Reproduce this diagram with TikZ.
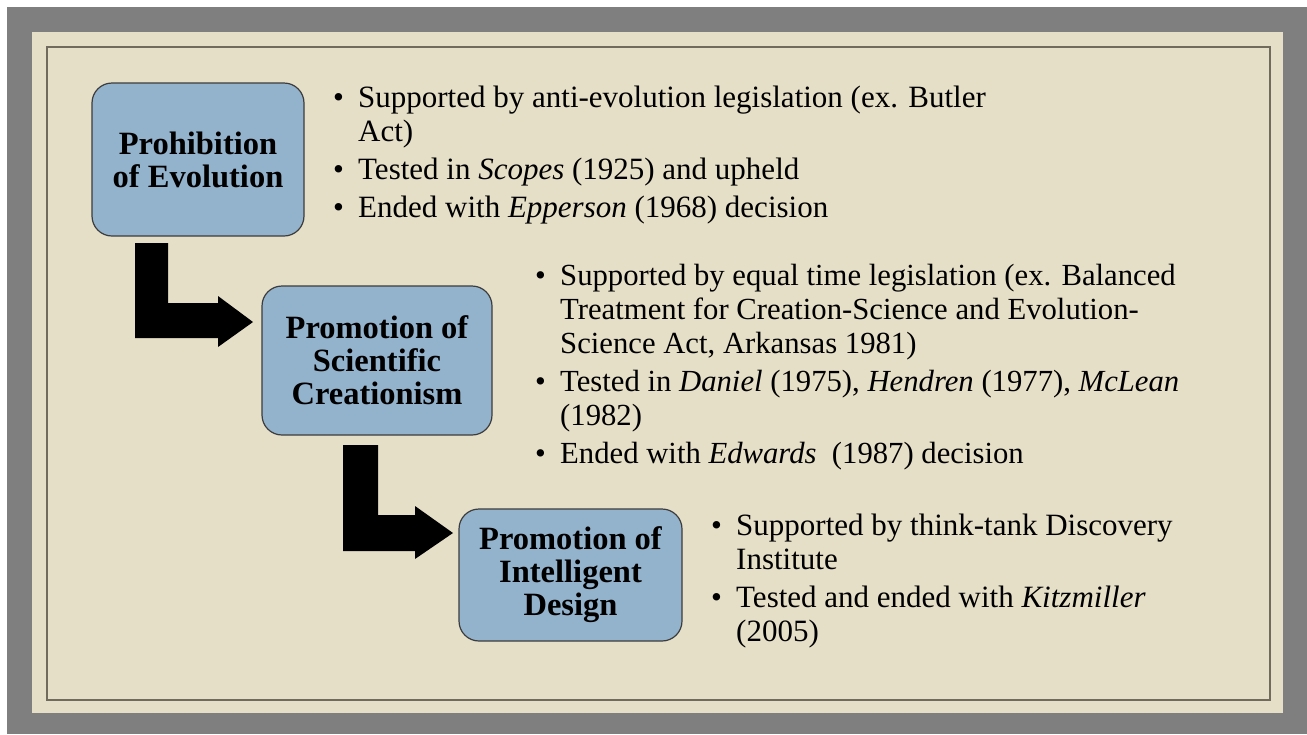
\documentclass[tikz,border=0pt]{standalone}
\usepackage{fontspec}
\setmainfont{Liberation Serif}
\usetikzlibrary{calc}
\definecolor{bggray}{RGB}{127,127,127}
\definecolor{panel}{RGB}{230,223,199}
\definecolor{framec}{RGB}{112,107,92}
\definecolor{boxfill}{RGB}{147,178,204}
\definecolor{boxline}{RGB}{60,60,60}
\newcommand{\mybul}{\makebox[25pt][l]{\textbullet}}
\newcommand{\myind}{\hspace*{25pt}}
\begin{document}
\begin{tikzpicture}[x=1pt,y=-1pt,
  stagebox/.style={draw=boxline, fill=boxfill, rounded corners=20pt, line width=1.2pt,
    align=center, inner sep=0pt, font=\fontsize{32.5}{33}\selectfont\bfseries},
  bullets/.style={anchor=base west, inner sep=0pt, font=\fontsize{31}{34}\selectfont},
  bigarrow/.style={fill=black}]
\useasboundingbox (0,0) rectangle (1307,734);
\fill[white] (0,0) rectangle (1307,734);
\fill[bggray] (7,7) rectangle (1307,734);
\fill[panel] (32,32) rectangle (1283,713);
\draw[framec, line width=1.6pt] (47,47) rectangle (1270,700);

\node[stagebox, minimum width=212pt, minimum height=153pt] (b1) at (198,159.5) {Prohibition\\of Evolution};
\node[stagebox, minimum width=230pt, minimum height=149pt] (b2) at (377,360.5) {Promotion of\\Scientific\\Creationism};
\node[stagebox, minimum width=223pt, minimum height=132pt] (b3) at (570.5,575) {Promotion of\\Intelligent\\Design};

\node[bullets] (t1) at (333,107) {\parbox[t]{760pt}{\raggedright
\mybul Supported by anti-evolution legislation (ex. Butler\\
\myind Act)\\[4pt]
\mybul Tested in \textit{Scopes} (1925) and upheld\\[4pt]
\mybul Ended with \textit{Epperson} (1968) decision}};

\node[bullets, font=\fontsize{30.7}{34}\selectfont] (t2) at (535,285) {\parbox[t]{720pt}{\raggedright
\mybul Supported by equal time legislation (ex. Balanced\\
\myind Treatment for Creation-Science and Evolution-\\
\myind Science Act, Arkansas 1981)\\[4pt]
\mybul Tested in \textit{Daniel} (1975), \textit{Hendren} (1977), \textit{McLean}\\
\myind (1982)\\[4pt]
\mybul Ended with \textit{Edwards}\ \ (1987) decision}};

\node[bullets] (t3) at (711,535) {\parbox[t]{560pt}{\raggedright
\mybul Supported by think-tank Discovery\\
\myind Institute\\[4pt]
\mybul Tested and ended with \textit{Kitzmiller}\\
\myind (2005)}};

\fill[bigarrow] (135,243) -- (168,243) -- (168,303) -- (218,303) -- (218,296) -- (253,322)
  -- (218,347) -- (218,338) -- (135,338) -- cycle;
\fill[bigarrow] (343,445) -- (378,445) -- (378,515) -- (415,515) -- (415,506) -- (453,533)
  -- (415,559) -- (415,551) -- (343,551) -- cycle;
\end{tikzpicture}
\end{document}
